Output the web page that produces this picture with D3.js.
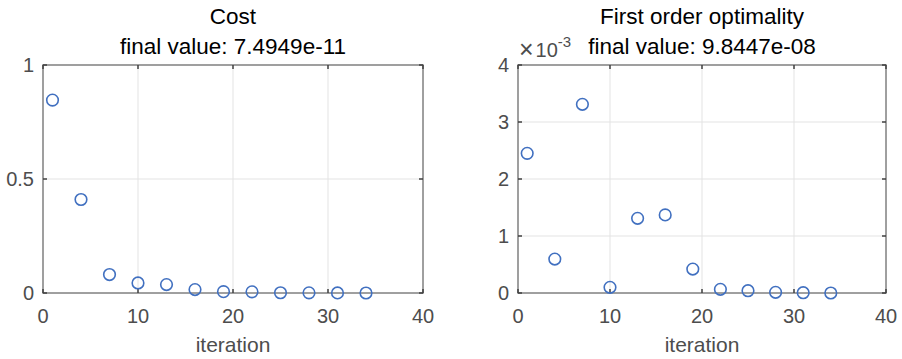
<!DOCTYPE html>
<html>
<head>
<meta charset="utf-8">
<script src="https://cdn.jsdelivr.net/npm/d3@7"></script>
<style>
  html, body { margin: 0; padding: 0; background: #fff; }
  svg { display: block; font-family: "Liberation Sans", Arial, Helvetica, sans-serif; }
</style>
</head>
<body>
<svg id="chart" width="902" height="359"></svg>
<script>
// Iterations at which the solver state was recorded
const iterations = [1, 4, 7, 10, 13, 16, 19, 22, 25, 28, 31, 34];
// Cost per recorded iteration
const costValues = [0.846, 0.41, 0.081, 0.044, 0.037, 0.015, 0.006, 0.005, 0.0012, 0.0006, 0.0002, 7.4949e-11];
// First order optimality per recorded iteration
const optimalityValues = [2.45e-3, 0.595e-3, 3.31e-3, 0.10e-3, 1.31e-3, 1.37e-3, 0.42e-3, 0.065e-3, 0.04e-3, 0.012e-3, 0.005e-3, 9.8447e-08];

const xTicks = [0, 10, 20, 30, 40];
const costTicks = [0, 0.5, 1];
const optTicks = [0, 1, 2, 3, 4];

const svg = d3.select("#chart");

function panel(opts) {
  const { left, right, top, bottom, yValues, yDomain, yTicks, yFormat, titles, exponent } = opts;
  const g = svg.append("g");
  const x = d3.scaleLinear().domain([0, 40]).range([left, right]);
  const y = d3.scaleLinear().domain(yDomain).range([bottom, top]);

  // grid
  g.selectAll("line.gx").data(xTicks.slice(1, -1)).join("line")
    .attr("x1", d => x(d)).attr("x2", d => x(d))
    .attr("y1", top).attr("y2", bottom)
    .attr("stroke", "#e3e3e3").attr("stroke-width", 1);
  g.selectAll("line.gy").data(yTicks.slice(1, -1)).join("line")
    .attr("y1", d => y(d)).attr("y2", d => y(d))
    .attr("x1", left).attr("x2", right)
    .attr("stroke", "#e3e3e3").attr("stroke-width", 1);

  // box
  g.append("rect")
    .attr("x", left).attr("y", top)
    .attr("width", right - left).attr("height", bottom - top)
    .attr("fill", "none").attr("stroke", "#808080").attr("stroke-width", 1.5);

  // inward ticks on all four sides
  const tl = 4;
  xTicks.forEach(t => {
    g.append("line").attr("x1", x(t)).attr("x2", x(t)).attr("y1", bottom).attr("y2", bottom - tl)
      .attr("stroke", "#404040").attr("stroke-width", 1.5);
    g.append("line").attr("x1", x(t)).attr("x2", x(t)).attr("y1", top).attr("y2", top + tl)
      .attr("stroke", "#404040").attr("stroke-width", 1.5);
  });
  yTicks.forEach(t => {
    g.append("line").attr("y1", y(t)).attr("y2", y(t)).attr("x1", left).attr("x2", left + tl)
      .attr("stroke", "#404040").attr("stroke-width", 1.5);
    g.append("line").attr("y1", y(t)).attr("y2", y(t)).attr("x1", right).attr("x2", right - tl)
      .attr("stroke", "#404040").attr("stroke-width", 1.5);
  });

  // tick labels
  g.selectAll("text.xt").data(xTicks).join("text")
    .attr("x", d => x(d)).attr("y", bottom + 30)
    .attr("text-anchor", "middle").attr("font-size", 20).attr("fill", "#4d4d4d")
    .text(d => d);
  g.selectAll("text.yt").data(yTicks).join("text")
    .attr("x", left - 9).attr("y", d => y(d) + 7)
    .attr("text-anchor", "end").attr("font-size", 20).attr("fill", "#4d4d4d")
    .text(yFormat);

  // axis label
  g.append("text").attr("x", (left + right) / 2).attr("y", bottom + 59)
    .attr("text-anchor", "middle").attr("font-size", 21).attr("fill", "#4d4d4d")
    .text("iteration");

  // titles
  titles.forEach((t, i) => {
    g.append("text").attr("x", (left + right) / 2).attr("y", 24 + i * 30)
      .attr("text-anchor", "middle").attr("font-size", 22.5).attr("fill", "#000")
      .text(t);
  });

  // axis exponent
  if (exponent) {
    const e = g.append("text").attr("x", left + 1).attr("y", top - 8)
      .attr("font-size", 20).attr("fill", "#4d4d4d");
    e.append("tspan").attr("font-size", 25).attr("dy", 1).text("\u00d7");
    e.append("tspan").attr("dx", 2).attr("dy", -1).text("10");
    e.append("tspan").attr("font-size", 15).attr("dy", -10).text(exponent);
  }

  // markers
  g.selectAll("circle").data(iterations).join("circle")
    .attr("cx", (d) => x(d))
    .attr("cy", (d, i) => y(yValues[i]))
    .attr("r", 5.8)
    .attr("fill", "none").attr("stroke", "#4170c0").attr("stroke-width", 1.6);
}

panel({
  left: 43, right: 423, top: 65, bottom: 293,
  yValues: costValues, yDomain: [0, 1], yTicks: costTicks,
  yFormat: d => d,
  titles: ["Cost", "final value: 7.4949e-11"]
});

panel({
  left: 518, right: 886, top: 65, bottom: 293,
  yValues: optimalityValues, yDomain: [0, 4e-3], yTicks: optTicks.map(v => v * 1e-3),
  yFormat: d => Math.round(d * 1e3),
  titles: ["First order optimality", "final value: 9.8447e-08"],
  exponent: "-3"
});
</script>
</body>
</html>
